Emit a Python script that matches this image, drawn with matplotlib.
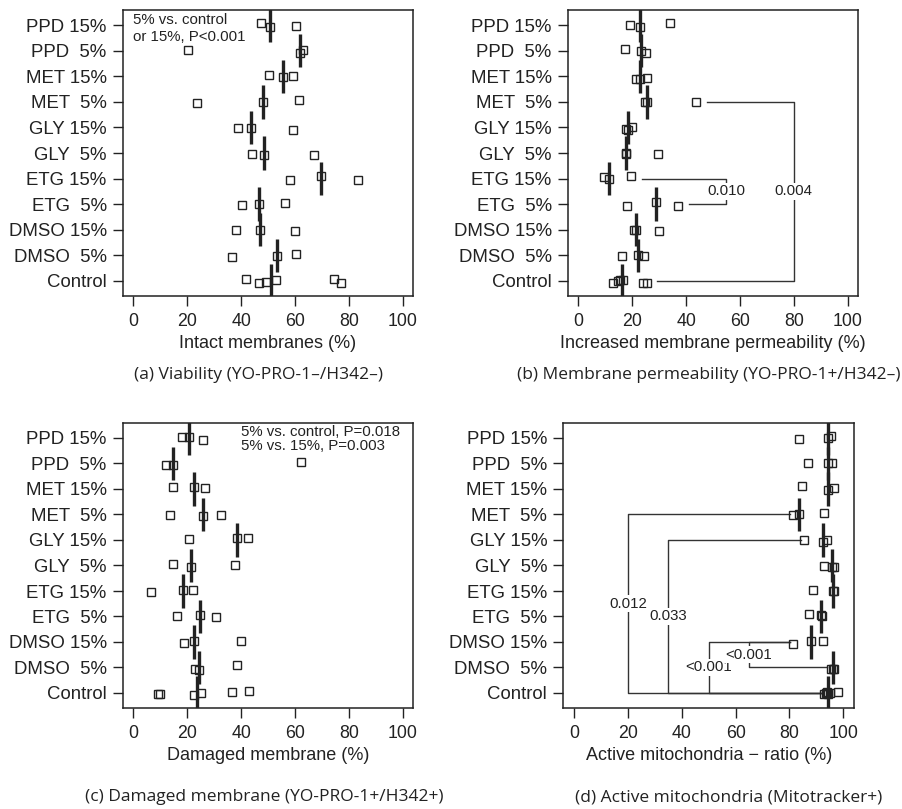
import matplotlib
matplotlib.use("Agg")
import matplotlib.pyplot as plt
import numpy as np

# ---------------- data ----------------
groups = ["Control", "DMSO  5%", "DMSO 15%", "ETG  5%", "ETG 15%",
          "GLY  5%", "GLY 15%", "MET  5%", "MET 15%", "PPD  5%", "PPD 15%"]
x_ticks = [0, 20, 40, 60, 80, 100]

viability = [
    [41.8, 46.8, 49.2, 52.8, 74.4, 77.3],
    [36.7, 53.3, 60.4],
    [38.2, 47.1, 59.9],
    [40.3, 46.8, 56.5],
    [58.1, 69.8, 83.4],
    [44.2, 48.6, 67.1],
    [38.8, 43.7, 59.3],
    [23.5, 48.2, 61.5],
    [50.4, 55.7, 59.3],
    [20.2, 61.9, 62.9],
    [47.4, 50.7, 60.3],
]
viability_jitter = [
    [0.05, -0.09, -0.05, 0.03, 0.07, -0.08],
    [-0.08, -0.05, 0.05], [0, 0, -0.05], [-0.03, 0, 0.04], [-0.07, 0.09, -0.05],
    [-0.03, -0.09, -0.07], [-0.03, -0.03, -0.09], [-0.05, 0.01, 0.08],
    [0.07, -0.03, 0], [0.05, -0.08, 0.03], [0.08, -0.07, -0.04],
]

permeability = [
    [12.8, 14.8, 15.5, 16.7, 23.8, 25.3],
    [16.3, 22.0, 24.5],
    [20.8, 21.4, 29.9],
    [18.2, 28.7, 37.0],
    [9.4, 11.3, 19.7],
    [17.6, 17.8, 29.4],
    [17.5, 18.3, 19.9],
    [24.7, 25.6, 43.8],
    [21.2, 23.0, 25.5],
    [17.3, 23.4, 25.1],
    [19.0, 23.0, 33.9],
]
permeability_jitter = [
    [-0.08, 0, 0.03, 0.03, -0.08, -0.08],
    [-0.03, 0.01, -0.03], [-0.03, -0.03, -0.07], [-0.08, 0.07, -0.09], [0.05, -0.03, 0.09],
    [-0.03, 0, -0.04], [-0.05, -0.08, 0], [-0.01, 0.01, -0.01],
    [-0.10, -0.10, -0.05], [0.07, 0.01, -0.07], [0.01, -0.07, 0.09],
]

damaged = [
    [9.2, 9.7, 22.5, 25.0, 36.5, 42.9],
    [22.8, 24.4, 38.5],
    [18.9, 22.5, 40.1],
    [16.0, 24.9, 30.7],
    [6.7, 18.3, 22.0],
    [14.6, 21.4, 37.7],
    [20.5, 38.5, 42.5],
    [13.4, 26.0, 32.5],
    [14.6, 22.5, 26.6],
    [12.0, 14.6, 62.2],
    [18.1, 20.7, 26.0],
]
damaged_jitter = [
    [-0.05, -0.05, -0.09, -0.01, 0.05, 0.09],
    [-0.07, -0.08, 0.10], [-0.04, 0.03, 0.04], [0.01, 0.04, -0.03], [-0.05, 0.03, 0.03],
    [0.04, -0.04, 0.03], [0.04, 0.08, 0.08], [-0.01, -0.05, -0.01],
    [0.07, 0.07, 0.03], [-0.04, -0.07, 0.07], [0.04, 0.03, -0.07],
]

mito = [
    [93.0, 93.6, 94.0, 94.3, 95.2, 98.1],
    [95.3, 96.0, 96.7],
    [81.4, 88.1, 92.3],
    [87.1, 91.7, 92.2],
    [88.7, 96.0, 96.7],
    [92.7, 95.7, 96.7],
    [85.5, 92.5, 94.1],
    [81.4, 83.5, 92.7],
    [84.7, 94.4, 96.4],
    [86.9, 94.3, 95.7],
    [83.5, 94.3, 95.4],
]
mito_jitter = [
    [-0.03, 0, 0.03, -0.04, -0.01, 0.05],
    [-0.07, -0.04, -0.07], [-0.08, 0.03, 0.05], [0.08, 0.04, 0], [0.03, 0.01, -0.01],
    [-0.01, -0.05, -0.05], [0, -0.08, 0], [-0.03, 0.03, 0.07],
    [0.10, -0.05, 0.05], [0, 0, 0.01], [-0.04, 0, 0.08],
]

# brackets: (group A, group B, vertical x, label, label row)
perm_brackets = [("MET  5%", "Control", 80, "0.004", 4.5),
                 ("ETG 15%", "ETG  5%", 55, "0.010", 4.5)]
mito_brackets = [("MET  5%", "Control", 20, "0.012", 4.5),
                 ("GLY 15%", "Control", 35, "0.033", 4.0),
                 ("DMSO 15%", "Control", 50, "<0.001", 2.0),
                 ("DMSO 15%", "DMSO  5%", 65, "<0.001", 2.5)]

xlabels = ["Intact membranes (%)", "Increased membrane permeability (%)",
           "Damaged membrane (%)", "Active mitochondria \u2212 ratio (%)"]
captions = ["(a) Viability (YO-PRO-1\u2013/H342\u2013)",
            "(b) Membrane permeability (YO-PRO-1+/H342\u2013)",
            "(c) Damaged membrane (YO-PRO-1+/H342+)",
            "(d) Active mitochondria (Mitotracker+)"]

# ---------------- style ----------------
FONT = ["Liberation Sans", "DejaVu Sans"]
CAPFONT = ["Open Sans", "DejaVu Sans"]
plt.rcParams["font.family"] = FONT
INK = "#222222"

W, H = 902, 809
fig = plt.figure(figsize=(W / 100, H / 100), dpi=100)


def px_axes(l, r, t, b):
    return fig.add_axes([l / W, 1 - b / H, (r - l) / W, (b - t) / H])


axes = [px_axes(122.7, 413.3, 10, 296),
        px_axes(567.7, 858.3, 10, 296),
        px_axes(122.7, 413.3, 422.7, 708.3),
        px_axes(563.2, 854.1, 422.7, 708.3)]

datasets = [viability, permeability, damaged, mito]
jitters = [viability_jitter, permeability_jitter, damaged_jitter, mito_jitter]
rows = {g: i + 1 for i, g in enumerate(groups)}


def draw_panel(ax, data, jit, xlabel):
    for i, (vals, jj) in enumerate(zip(data, jit)):
        yc = i + 1
        med = np.median(vals)
        ax.plot([med, med], [yc - 0.65, yc + 0.65], color=INK, lw=2.4,
                solid_capstyle="butt", zorder=3)
        ax.plot(vals, yc + np.array(jj), ls="none", marker="s", ms=5.4,
                mfc="none", mec=INK, mew=1.0, zorder=4)
    ax.set_xlim(-4, 104)
    ax.set_ylim(0.4, 11.6)
    ax.set_xticks(x_ticks)
    ax.set_yticks(range(1, len(groups) + 1))
    ax.set_yticklabels(groups)
    ax.tick_params(axis="both", direction="out", length=7, width=1.0,
                   color=INK, labelcolor=INK)
    ax.tick_params(axis="x", pad=5, labelsize=12.8)
    ax.tick_params(axis="y", pad=4.5, labelsize=13.4)
    for s in ax.spines.values():
        s.set_linewidth(1.1)
        s.set_color(INK)
    ax.set_xlabel(xlabel, fontsize=13, color=INK)
    ax.xaxis.set_label_coords(0.5, -0.135)
    ax.xaxis.label.set_va("top")


for ax, d, j, xl in zip(axes, datasets, jitters, xlabels):
    draw_panel(ax, d, j, xl)

ANN = 10.8
BR = "#333333"


def bracket_right(ax, data, spec, gap=4.0):
    a, b, xv, lab, ly = spec
    ya, yb = rows[a], rows[b]
    sa = max(data[ya - 1]) + gap
    sb = max(data[yb - 1]) + gap
    ax.plot([sa, xv, xv, sb], [ya, ya, yb, yb], color=BR, lw=1.0, zorder=2)
    ax.text(xv, ly, lab, ha="center", va="center", fontsize=ANN, color=INK,
            bbox=dict(facecolor="white", edgecolor="none", pad=1.0), zorder=5)


def bracket_left(ax, data, spec, gap=1.2):
    a, b, xv, lab, ly = spec
    ya, yb = rows[a], rows[b]
    sa = min(data[ya - 1]) - gap
    sb = min(data[yb - 1]) - gap
    ax.plot([sa, xv, xv, sb], [ya, ya, yb, yb], color=BR, lw=1.0, zorder=2)
    ax.text(xv, ly, lab, ha="center", va="center", fontsize=ANN, color=INK,
            bbox=dict(facecolor="white", edgecolor="none", pad=1.0), zorder=5)


for spec in perm_brackets:
    bracket_right(axes[1], permeability, spec)
for spec in mito_brackets:
    bracket_left(axes[3], mito, spec)

axes[0].text(0, 11.21, "5% vs. control", ha="left", va="center", fontsize=ANN, color=INK)
axes[0].text(0, 10.53, "or 15%, P<0.001", ha="left", va="center", fontsize=ANN, color=INK)
axes[2].text(40, 11.25, "5% vs. control, P=0.018", ha="left", va="center", fontsize=ANN, color=INK)
axes[2].text(40, 10.69, "5% vs. 15%, P=0.003", ha="left", va="center", fontsize=ANN, color=INK)

cap_pos = [(258, 375), (709, 375), (264, 797), (729, 797)]
for (cx, cy), cap in zip(cap_pos, captions):
    fig.text(cx / W, 1 - cy / H, cap, ha="center", va="center", fontsize=12.5,
             color=INK, family=CAPFONT)

fig.savefig("out.png", dpi=100)
